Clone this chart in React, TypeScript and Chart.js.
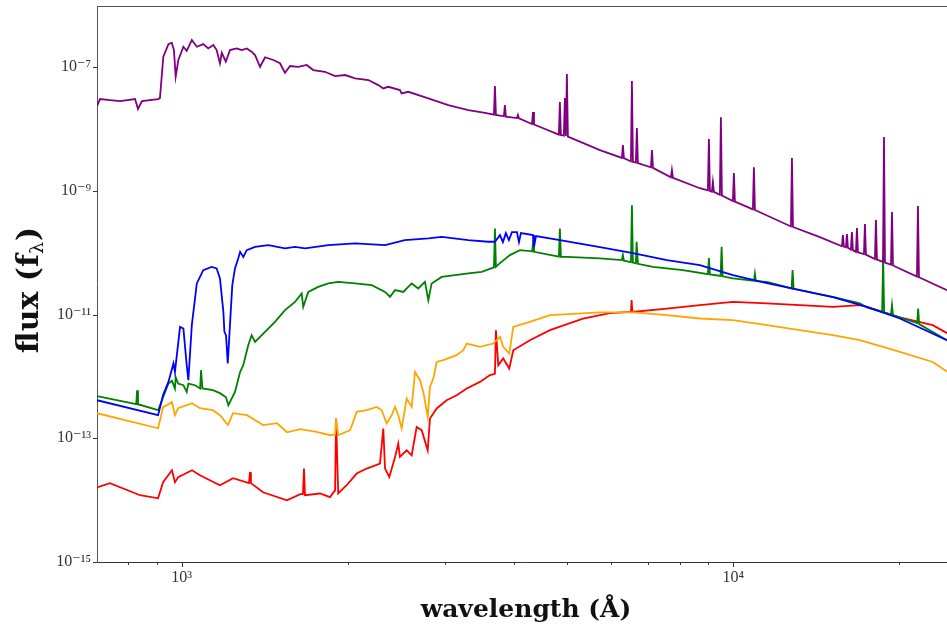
import React, { useEffect, useRef } from 'react';
import { Chart, registerables } from 'chart.js';

Chart.register(...registerables);

// ---- Data (wavelength in Å, flux f_lambda) ----
const purpleWave = [702, 711, 741, 773, 823, 833, 847, 906, 913, 926, 946, 959, 968, 975, 986, 1007, 1021, 1043, 1065, 1094, 1117, 1141, 1157, 1173, 1182, 1202, 1223, 1258, 1285, 1312, 1339, 1358, 1387, 1416, 1466, 1507, 1539, 1572, 1627, 1685, 1732, 1818, 1897, 1978, 2062, 2180, 2272, 2320, 2369, 2487, 2505, 2575, 2800, 3043, 3308, 3547, 3683, 3698, 3713, 3839, 3855, 3871, 4054, 4071, 4088, 4317, 4335, 4353, 4830, 4850, 4870, 4931, 4952, 4973, 4994, 5015, 5733, 6284, 6310, 6336, 6525, 6552, 6579, 6661, 6689, 6717, 7094, 7124, 7154, 7711, 7743, 7775, 8701, 8998, 9036, 9074, 9150, 9188, 9226, 9460, 9500, 9540, 9988, 10030, 10072, 10858, 10904, 10950, 12728, 12781, 12835, 14363, 15746, 15812, 15878, 16011, 16078, 16145, 16349, 16418, 16487, 16696, 16766, 16836, 17263, 17335, 17408, 18075, 18151, 18227, 18691, 18769, 18848, 19327, 19408, 19489, 21540, 21630, 21721, 24420];
const purpleFlux = [2.34e-8, 3.04e-8, 2.92e-8, 2.82e-8, 3.04e-8, 2.1e-8, 2.82e-8, 3.04e-8, 3.15e-8, 1.47e-7, 2.35e-7, 2.47e-7, 1.88e-7, 6.97e-8, 1.3e-7, 2.13e-7, 1.83e-7, 2.73e-7, 2.13e-7, 2.35e-7, 2.0e-7, 2.27e-7, 1.88e-7, 1.15e-7, 1.7e-7, 1.22e-7, 1.88e-7, 2.0e-7, 1.88e-7, 2.0e-7, 1.77e-7, 1.56e-7, 1.01e-7, 1.44e-7, 1.3e-7, 1.15e-7, 8.08e-8, 1.04e-7, 1.01e-7, 1.08e-7, 8.94e-8, 8.39e-8, 7.15e-8, 7.43e-8, 6.56e-8, 6.17e-8, 5.11e-8, 4.52e-8, 4.8e-8, 4.25e-8, 3.75e-8, 3.98e-8, 3.12e-8, 2.43e-8, 2.01e-8, 1.82e-8, 1.7e-8, 4.93e-8, 1.68e-8, 1.6e-8, 2.43e-8, 1.58e-8, 1.5e-8, 1.68e-8, 1.48e-8, 1.2e-8, 1.87e-8, 1.18e-8, 8.1e-9, 2.72e-8, 8.0e-9, 7.8e-9, 3.15e-8, 7.7e-9, 7.7e-8, 7.5e-9, 4.55e-9, 3.4e-9, 5.48e-9, 3.38e-9, 2.98e-9, 5.94e-8, 2.93e-9, 2.85e-9, 1.03e-8, 2.8e-9, 2.4e-9, 4.55e-9, 2.35e-9, 1.65e-9, 2.16e-9, 1.62e-9, 1.1e-9, 1.02e-9, 6.85e-9, 1.0e-9, 9.7e-10, 1.38e-9, 9.6e-10, 8.6e-10, 1.55e-8, 8.4e-10, 6.8e-10, 1.93e-9, 6.7e-10, 5.0e-10, 2.41e-9, 4.9e-10, 2.65e-10, 3.38e-9, 2.6e-10, 1.78e-10, 1.27e-10, 1.92e-10, 1.25e-10, 1.22e-10, 1.99e-10, 1.2e-10, 1.12e-10, 2.15e-10, 1.1e-10, 1.03e-10, 2.49e-10, 1.01e-10, 9.5e-11, 2.89e-10, 9.3e-11, 7.9e-11, 3.36e-10, 7.7e-11, 7.1e-11, 7.38e-9, 6.9e-11, 6.4e-11, 4.52e-10, 6.2e-11, 4.1e-11, 5.65e-10, 4.0e-11, 2.48e-11];

const blueWave = [702, 906, 925, 946, 966, 972, 993, 1007, 1021, 1028, 1043, 1065, 1094, 1133, 1157, 1173, 1190, 1195, 1203, 1212, 1223, 1235, 1249, 1266, 1276, 1293, 1312, 1358, 1436, 1539, 1605, 1674, 1844, 2062, 2337, 2539, 2800, 2961, 3308, 3596, 3698, 3776, 3823, 3871, 3920, 3970, 4054, 4088, 4122, 4335, 4353, 4389, 4850, 5733, 6579, 7583, 8701, 9988, 11512, 13213, 15158, 17480, 20060, 24420];
const blueFlux = [4.12e-13, 2.36e-13, 5.0e-13, 8.14e-13, 1.62e-12, 1.18e-12, 6.31e-12, 5.95e-12, 1.52e-12, 8.69e-13, 6.73e-12, 3.18e-11, 5.22e-11, 5.89e-11, 5.55e-11, 3.83e-11, 1.1e-11, 5.24e-12, 4.63e-12, 1.62e-12, 6.73e-12, 2.99e-11, 5.55e-11, 8.06e-11, 1.03e-10, 8.55e-11, 1.1e-10, 1.24e-10, 1.32e-10, 1.17e-10, 1.24e-10, 1.17e-10, 1.32e-10, 1.41e-10, 1.32e-10, 1.6e-10, 1.7e-10, 1.8e-10, 1.6e-10, 1.5e-10, 1.5e-10, 1.92e-10, 1.48e-10, 2.07e-10, 1.6e-10, 2.15e-10, 2.15e-10, 1.48e-10, 2.07e-10, 1.92e-10, 1.23e-10, 1.85e-10, 1.6e-10, 1.23e-10, 9.84e-11, 7.59e-11, 6.3e-11, 4.33e-11, 3.22e-11, 2.48e-11, 1.91e-11, 1.33e-11, 8.63e-12, 3.85e-12];

const greenWave = [702, 827, 830, 833, 906, 946, 960, 972, 975, 985, 1007, 1021, 1028, 1057, 1080, 1084, 1090, 1139, 1173, 1203, 1215, 1249, 1276, 1293, 1320, 1339, 1358, 1416, 1476, 1539, 1605, 1650, 1661, 1696, 1768, 1844, 1922, 2062, 2211, 2337, 2386, 2437, 2522, 2612, 2685, 2761, 2800, 2839, 2961, 3129, 3308, 3499, 3683, 3698, 3713, 3776, 3937, 4104, 4320, 4335, 4353, 4830, 4850, 4870, 4994, 5733, 6284, 6310, 6336, 6525, 6552, 6579, 6661, 6681, 6717, 7153, 8104, 8998, 9036, 9074, 9488, 9528, 9568, 9988, 10906, 10950, 10996, 11512, 12763, 12816, 12870, 15158, 16970, 17480, 18626, 18704, 18782, 19327, 19408, 19489, 21560, 21650, 21740, 24420];
const greenFlux = [4.79e-13, 3.55e-13, 5.98e-13, 3.55e-13, 2.84e-13, 7.67e-13, 8.5e-13, 6.37e-13, 9.73e-13, 7.67e-13, 7.2e-13, 5.61e-13, 7.67e-13, 7.2e-13, 6.37e-13, 1.26e-12, 6.4e-13, 5.98e-13, 5.36e-13, 4.6e-13, 3.42e-13, 5.61e-13, 1.18e-12, 1.52e-12, 3.19e-12, 4.63e-12, 3.61e-12, 5.24e-12, 7.6e-12, 1.18e-11, 1.6e-11, 2.19e-11, 1.33e-11, 2.32e-11, 2.8e-11, 3.18e-11, 3.37e-11, 3.18e-11, 2.99e-11, 2.32e-11, 1.93e-11, 2.48e-11, 2.32e-11, 3.18e-11, 2.64e-11, 3.37e-11, 1.71e-11, 3.18e-11, 4.06e-11, 4.33e-11, 4.61e-11, 4.89e-11, 5.8e-11, 2.46e-10, 5.9e-11, 6.78e-11, 9.12e-11, 1.1e-10, 1.05e-10, 1.41e-10, 1.03e-10, 8.6e-11, 2.46e-10, 8.55e-11, 8.55e-11, 8.06e-11, 7.6e-11, 9.12e-11, 7.4e-11, 7.0e-11, 5.86e-10, 6.9e-11, 6.7e-11, 1.5e-10, 6.6e-11, 5.89e-11, 5.22e-11, 4.5e-11, 8.17e-11, 4.45e-11, 4.2e-11, 1.24e-10, 4.15e-11, 3.83e-11, 3.5e-11, 4.61e-11, 3.45e-11, 3.37e-11, 2.65e-11, 5.22e-11, 2.6e-11, 1.93e-11, 1.51e-11, 1.3e-11, 1.1e-11, 8.55e-11, 1.08e-11, 1.0e-11, 1.42e-11, 9.8e-12, 7.3e-12, 1.25e-11, 7.0e-12, 3.85e-12];

const orangeWave = [702, 906, 925, 960, 972, 985, 1044, 1079, 1139, 1173, 1213, 1239, 1313, 1404, 1489, 1552, 1639, 1757, 1857, 1897, 1905, 1922, 2020, 2076, 2165, 2257, 2305, 2353, 2403, 2437, 2470, 2505, 2558, 2612, 2649, 2704, 2742, 2793, 2819, 2859, 2900, 2981, 3152, 3241, 3287, 3474, 3672, 3776, 3828, 3926, 3992, 4279, 4653, 5733, 6579, 7583, 8701, 9988, 11512, 13213, 15158, 16970, 18704, 20060, 23010, 24420];
const orangeFlux = [2.54e-13, 1.45e-13, 3.18e-13, 3.83e-13, 2.36e-13, 3.06e-13, 3.69e-13, 3.06e-13, 2.84e-13, 2.36e-13, 1.63e-13, 2.54e-13, 2.36e-13, 1.63e-13, 1.75e-13, 1.25e-13, 1.4e-13, 1.27e-13, 1.12e-13, 1.15e-13, 2.08e-13, 1.12e-13, 1.35e-13, 2.67e-13, 2.84e-13, 3.21e-13, 2.84e-13, 1.73e-13, 2.36e-13, 3.21e-13, 2.36e-13, 1.44e-13, 4.39e-13, 3.21e-13, 1.18e-12, 8.69e-13, 5.61e-13, 2.21e-13, 6.76e-13, 9.24e-13, 1.71e-12, 1.83e-12, 2.2e-12, 2.65e-12, 3.4e-12, 3.0e-12, 3.4e-12, 4.35e-12, 3.0e-12, 2.34e-12, 6.31e-12, 7.6e-12, 9.76e-12, 1.08e-11, 1.08e-11, 9.76e-12, 8.63e-12, 8.11e-12, 6.73e-12, 5.58e-12, 4.63e-12, 3.85e-12, 3.0e-12, 2.49e-12, 1.71e-12, 1.2e-12];

const redWave = [702, 741, 840, 906, 925, 960, 972, 985, 1044, 1079, 1173, 1239, 1324, 1330, 1335, 1404, 1552, 1640, 1659, 1666, 1673, 1781, 1857, 1897, 1905, 1922, 1991, 2076, 2165, 2288, 2320, 2337, 2379, 2437, 2470, 2487, 2558, 2612, 2667, 2723, 2793, 2819, 2900, 3022, 3152, 3287, 3474, 3622, 3698, 3713, 3750, 3828, 3926, 3992, 4279, 4653, 5340, 5977, 6525, 6544, 6563, 7583, 8701, 9988, 11512, 13213, 15158, 16970, 17480, 20060, 23010, 24420];
const redFlux = [1.61e-14, 1.88e-14, 1.2e-14, 1.07e-14, 1.95e-14, 3.04e-14, 1.95e-14, 2.34e-14, 3.04e-14, 2.52e-14, 1.74e-14, 2.26e-14, 1.88e-14, 2.83e-14, 1.88e-14, 1.34e-14, 9.95e-15, 1.25e-14, 1.25e-14, 3.24e-14, 1.2e-14, 1.28e-14, 1.12e-14, 1.44e-14, 2.08e-13, 1.28e-14, 1.74e-14, 2.69e-14, 3.24e-14, 3.9e-14, 1.44e-13, 3.24e-14, 2.37e-14, 4.99e-14, 8.22e-14, 4.99e-14, 6.4e-14, 5.31e-14, 1.52e-13, 1.35e-13, 6.4e-14, 2.08e-13, 3.03e-13, 4.12e-13, 4.96e-13, 6.37e-13, 8.14e-13, 1.05e-12, 1.1e-12, 5.58e-12, 1.52e-12, 1.95e-12, 1.34e-12, 2.65e-12, 3.85e-12, 5.58e-12, 8.6e-12, 1.05e-11, 1.1e-11, 1.71e-11, 1.1e-11, 1.25e-11, 1.42e-11, 1.6e-11, 1.51e-11, 1.42e-11, 1.33e-11, 1.42e-11, 1.33e-11, 9.0e-12, 6.73e-12, 5.0e-12];

// ---- Axes ----
const xMin = 702;
const xMax = 24420;
const yMin = 1e-15;
const yMax = 9.7e-7;
const xTickValues = [800, 900, 1000, 2000, 3000, 4000, 5000, 6000, 7000, 8000, 9000, 10000, 20000];
const xTickLabels = ['', '', '10³', '', '', '', '', '', '', '', '', '10⁴', ''];
const xMajorTicks = [1000, 10000];
const yTickValues = [1e-15, 1e-13, 1e-11, 1e-9, 1e-7];
const yTickLabels = ['10⁻¹⁵', '10⁻¹³', '10⁻¹¹', '10⁻⁹', '10⁻⁷'];
const xTitle = 'wavelength (Å)';
const yTitleMain = 'flux (f';
const yTitleSub = 'λ';
const yTitleEnd = ')';

const seriesList = [
  { name: 'purple', wave: purpleWave, flux: purpleFlux, color: '#800080' },
  { name: 'blue', wave: blueWave, flux: blueFlux, color: '#0000ff' },
  { name: 'green', wave: greenWave, flux: greenFlux, color: '#008000' },
  { name: 'orange', wave: orangeWave, flux: orangeFlux, color: '#ffa500' },
  { name: 'red', wave: redWave, flux: redFlux, color: '#ff0000' },
];

const tickFont = { family: "'Liberation Serif', 'DejaVu Serif', serif", size: 16 };

const decorPlugin = {
  id: 'decor',
  afterDraw(chart: any) {
    const { ctx, chartArea: a, scales } = chart;
    const xs = scales.x;
    const ys = scales.y;
    ctx.save();
    ctx.strokeStyle = '#555';
    ctx.lineWidth = 1;
    ctx.beginPath();
    ctx.moveTo(a.left, Math.round(a.top) + 0.5);
    ctx.lineTo(a.right, Math.round(a.top) + 0.5);
    ctx.stroke();
    ctx.strokeStyle = '#333';
    xTickValues.forEach((v) => {
      const p = Math.round(xs.getPixelForValue(v)) + 0.5;
      const len = xMajorTicks.includes(v) ? 5 : 3;
      ctx.beginPath();
      ctx.moveTo(p, a.bottom);
      ctx.lineTo(p, a.bottom + len);
      ctx.stroke();
    });
    yTickValues.forEach((v) => {
      const p = Math.round(ys.getPixelForValue(v)) + 0.5;
      ctx.beginPath();
      ctx.moveTo(a.left - 4, p);
      ctx.lineTo(a.left, p);
      ctx.stroke();
    });
    ctx.fillStyle = '#111';
    ctx.font = "bold 25px 'DejaVu Serif', serif";
    ctx.textAlign = 'center';
    ctx.textBaseline = 'alphabetic';
    ctx.fillText(xTitle, (a.left + a.right) / 2 + 4, a.bottom + 55);
    const mainFont = "bold 30px 'DejaVu Serif', serif";
    const subFont = "19px 'DejaVu Serif', serif";
    ctx.font = mainFont;
    const w1 = ctx.measureText(yTitleMain).width;
    const w3 = ctx.measureText(yTitleEnd).width;
    ctx.font = subFont;
    const w2 = ctx.measureText(yTitleSub).width;
    const total = w1 + w2 + w3 + 1;
    ctx.translate(38, (a.top + a.bottom) / 2 + 6);
    ctx.rotate(-Math.PI / 2);
    ctx.textAlign = 'left';
    let x0 = -total / 2;
    ctx.font = mainFont;
    ctx.fillText(yTitleMain, x0, 0);
    x0 += w1;
    ctx.font = subFont;
    ctx.fillText(yTitleSub, x0, 5);
    x0 += w2 + 1;
    ctx.font = mainFont;
    ctx.fillText(yTitleEnd, x0, 0);
    ctx.restore();
  },
};

export default function App() {
  const canvasRef = useRef<HTMLCanvasElement | null>(null);

  useEffect(() => {
    const canvas = canvasRef.current;
    if (!canvas) return;
    const chart = new Chart(canvas, {
      type: 'scatter',
      data: {
        datasets: seriesList.map((s) => ({
          label: s.name,
          data: s.wave.map((w, i) => ({ x: w, y: s.flux[i] })),
          showLine: true,
          borderColor: s.color,
          backgroundColor: s.color,
          borderWidth: 1.8,
          pointRadius: 0,
          pointHoverRadius: 0,
          fill: false,
          tension: 0,
        })),
      },
      options: {
        animation: false,
        responsive: false,
        maintainAspectRatio: false,
        events: [],
        layout: { padding: { top: 6, right: 0, bottom: 0, left: 0 } },
        plugins: {
          legend: { display: false },
          tooltip: { enabled: false },
        },
        scales: {
          x: {
            type: 'logarithmic',
            min: xMin,
            max: xMax,
            bounds: 'data',
            grid: { display: false, drawTicks: false },
            border: { display: true, color: '#333', width: 1 },
            ticks: {
              autoSkip: false,
              maxRotation: 0,
              minRotation: 0,
              padding: 6,
              color: '#333',
              font: tickFont,
              callback: (value: any) => {
                const i = xTickValues.indexOf(Number(value));
                return i >= 0 ? xTickLabels[i] : '';
              },
            },
            afterBuildTicks: (s: any) => {
              s.ticks = xTickValues.map((v) => ({ value: v }));
            },
            afterFit: (s: any) => {
              s.height = 63;
              s.paddingLeft = 0;
              s.paddingRight = 0;
            },
          },
          y: {
            type: 'logarithmic',
            min: yMin,
            max: yMax,
            bounds: 'data',
            grid: { display: false, drawTicks: false },
            border: { display: true, color: '#555', width: 1 },
            ticks: {
              autoSkip: false,
              padding: 6,
              color: '#333',
              font: tickFont,
              callback: (value: any) => {
                const v = Number(value);
                const i = yTickValues.findIndex((t) => Math.abs(Math.log10(t) - Math.log10(v)) < 1e-6);
                return i >= 0 ? yTickLabels[i] : '';
              },
            },
            afterBuildTicks: (s: any) => {
              s.ticks = yTickValues.map((v) => ({ value: v }));
            },
            afterFit: (s: any) => {
              s.width = 97;
              s.paddingTop = 0;
              s.paddingBottom = 0;
            },
          },
        },
      } as any,
      plugins: [decorPlugin],
    });
    return () => chart.destroy();
  }, []);

  return (
    <div style={{ position: 'absolute', left: 0, top: 0, width: 947, height: 625, background: '#fff' }}>
      <canvas ref={canvasRef} width={947} height={625} style={{ display: 'block' }} />
    </div>
  );
}
